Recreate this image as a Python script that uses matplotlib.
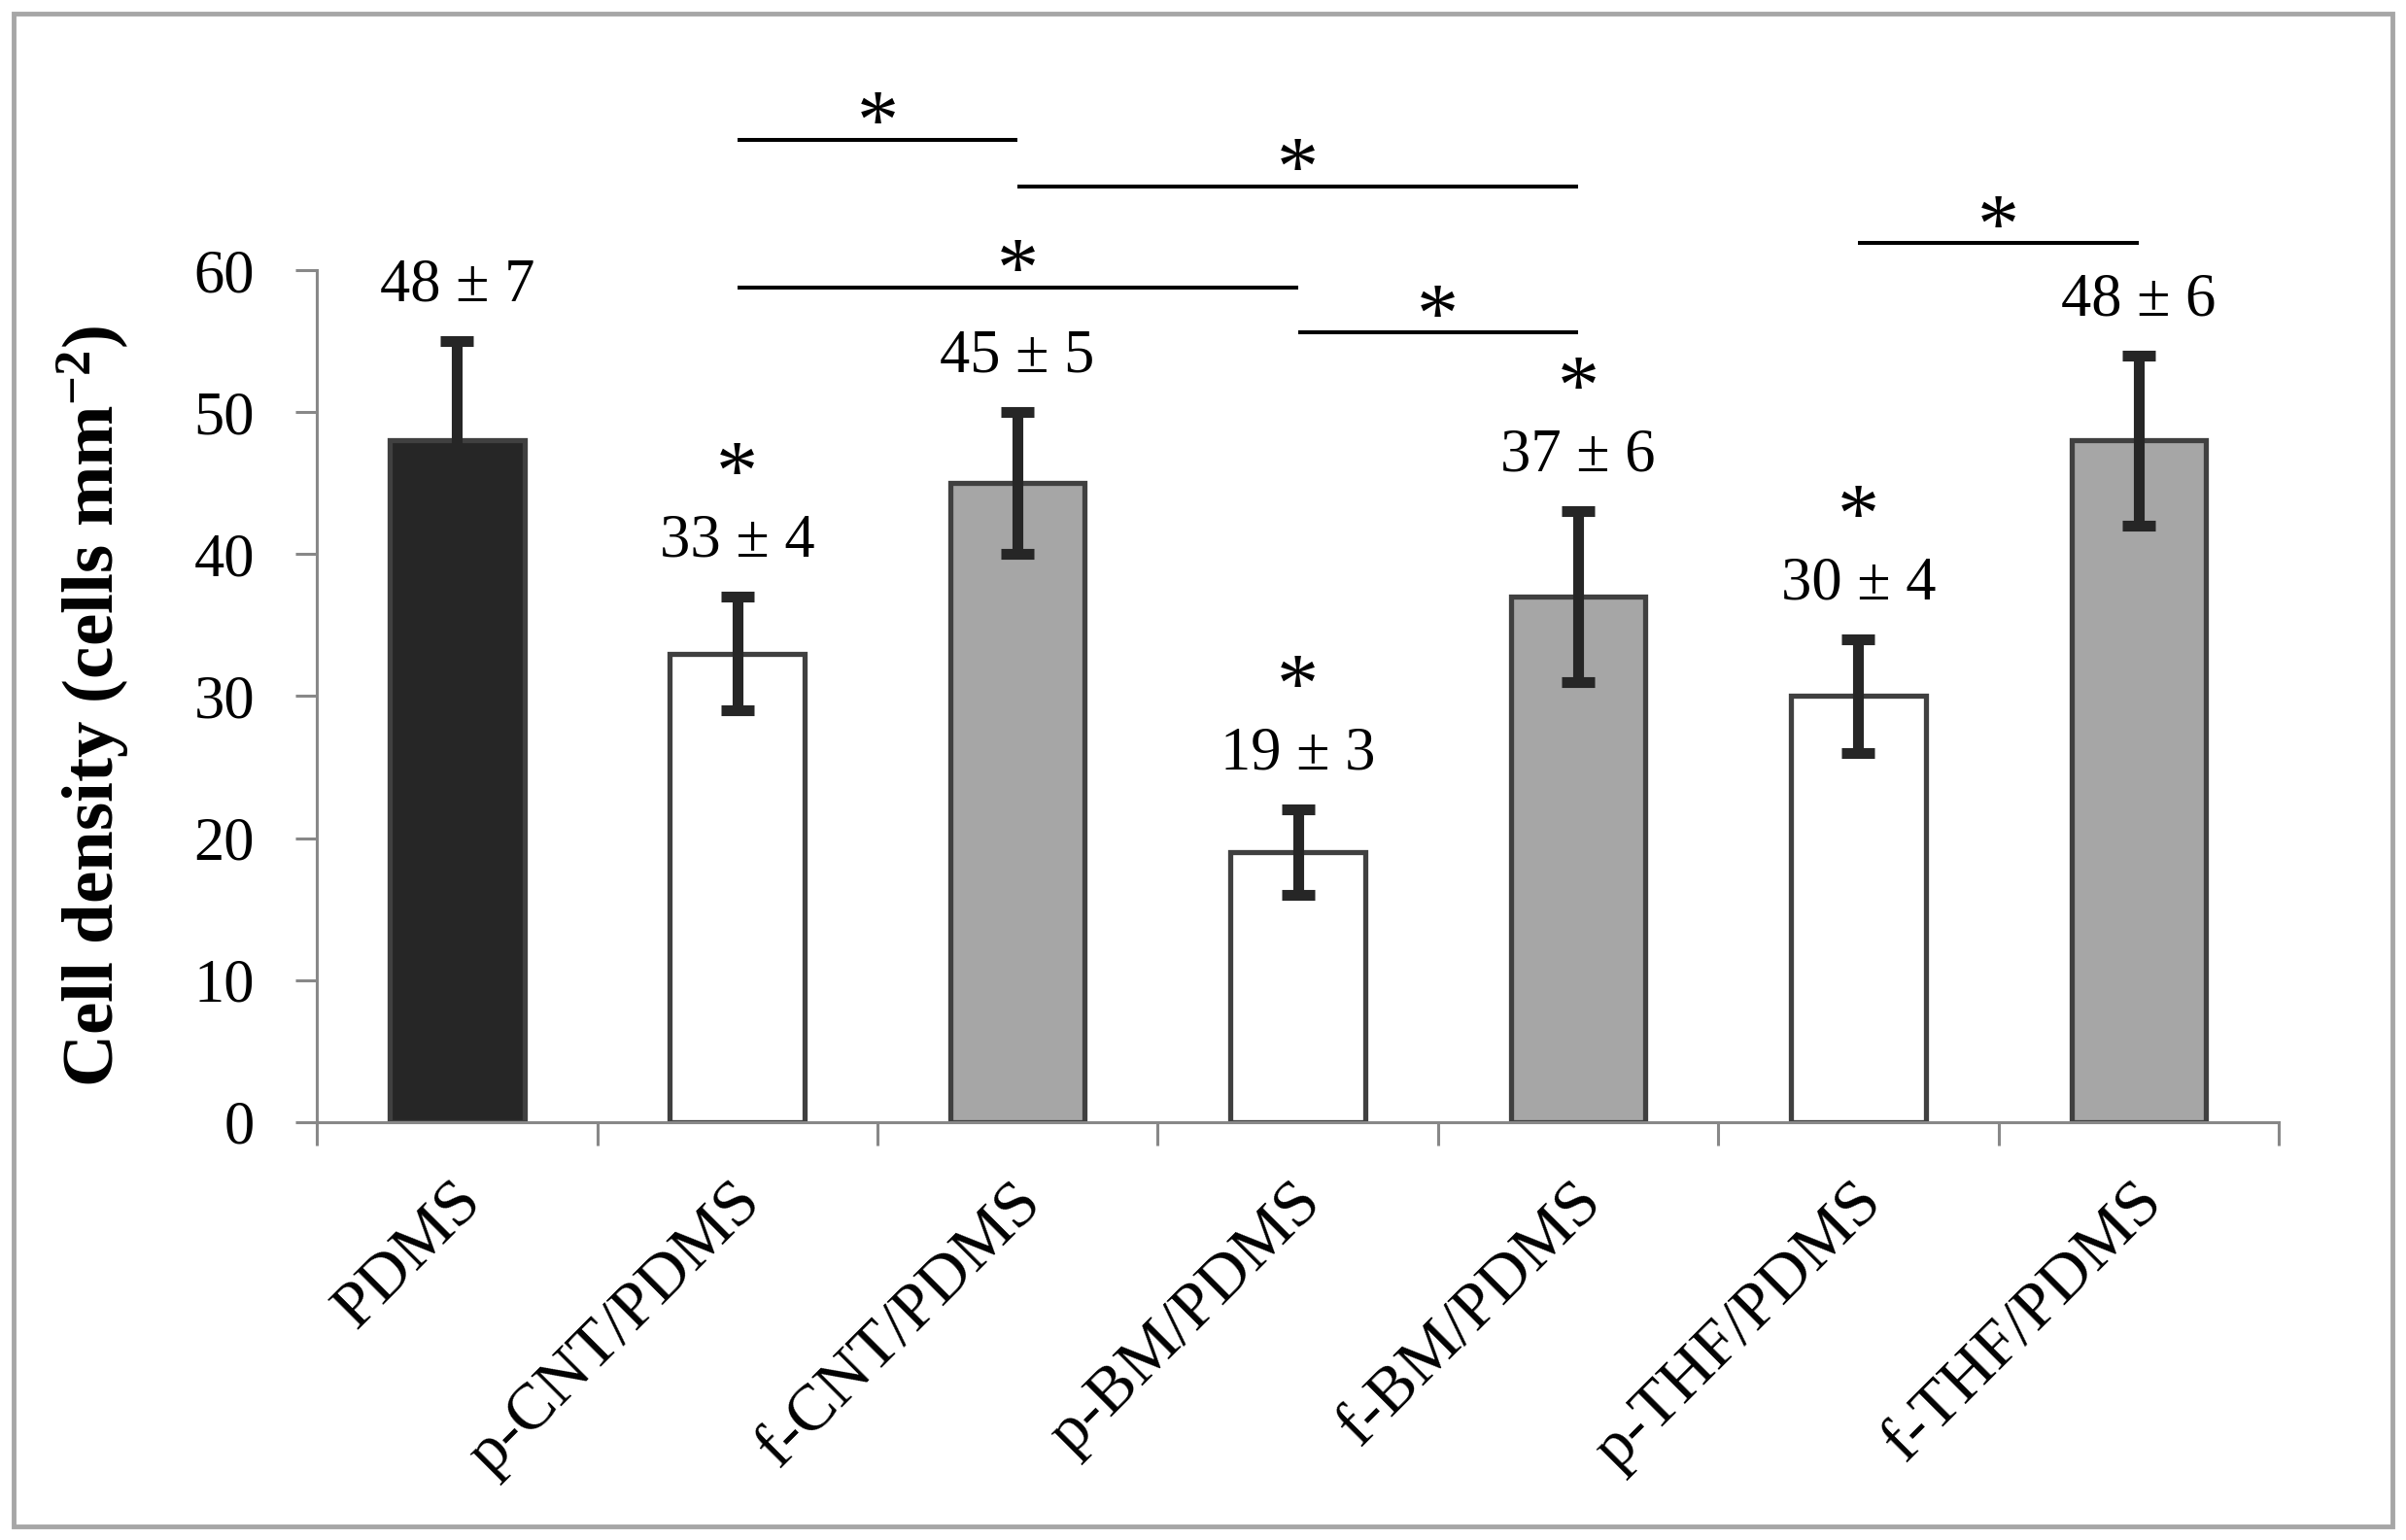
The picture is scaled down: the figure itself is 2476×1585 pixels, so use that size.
import matplotlib
matplotlib.use("Agg")
import matplotlib.pyplot as plt
import matplotlib.transforms as mtransforms
from matplotlib.patches import Rectangle
import numpy as np

plt.rcParams["font.family"] = ["Liberation Serif", "DejaVu Serif"]
plt.rcParams["mathtext.fontset"] = "custom"
plt.rcParams["mathtext.rm"] = "Liberation Serif"
plt.rcParams["mathtext.bf"] = "Liberation Serif:bold"
plt.rcParams["mathtext.default"] = "bf"

samples = ["PDMS", "p-CNT/PDMS", "f-CNT/PDMS", "p-BM/PDMS",
           "f-BM/PDMS", "p-THF/PDMS", "f-THF/PDMS"]
density = [48, 33, 45, 19, 37, 30, 48]
density_sd = [7, 4, 5, 3, 6, 4, 6]
bar_colors = ["#262626", "#ffffff", "#a6a6a6", "#ffffff",
              "#a6a6a6", "#ffffff", "#a6a6a6"]
# star above the value label (different from PDMS)
marked = [False, True, False, True, True, True, False]
# compared pairs (bar indices) and the height of their line
pairs = [(1, 2), (2, 4), (1, 3), (3, 4), (5, 6)]
pair_heights = [69.2, 65.9, 58.8, 55.6, 61.9]

axis_grey = "#888888"
fs = 45

fig = plt.figure(figsize=(24.76, 15.85), dpi=100)
ax = fig.add_axes([0.1317, 0.2713, 0.8154, 0.5533])

x = np.arange(len(samples))
ax.bar(x, density, width=0.48, color=bar_colors, edgecolor="#404040",
       linewidth=3.8, zorder=2)
ax.errorbar(x, density, yerr=density_sd, fmt="none", ecolor="#262626",
            elinewidth=8, capsize=12.5, capthick=8, zorder=3)

ax.set_xlim(-0.5, len(samples) - 0.5)
ax.set_ylim(0, 60)
ax.set_yticks(range(0, 61, 10))

for side in ["top", "right"]:
    ax.spines[side].set_visible(False)
for side in ["left", "bottom"]:
    ax.spines[side].set_color(axis_grey)
    ax.spines[side].set_linewidth(2.2)

ax.set_xticks(x)
ax.set_xticklabels(samples, rotation=45, ha="right", va="center",
                   rotation_mode="anchor", fontsize=49)
ax.set_xticks(np.arange(-0.5, len(samples)), minor=True)
ax.tick_params(axis="x", which="major", length=0, pad=52)
ax.tick_params(axis="x", which="minor", length=17, width=2.2,
               color=axis_grey, direction="out")
ax.tick_params(axis="y", length=16, width=2.2, color=axis_grey,
               pad=30, labelsize=fs)

shift = mtransforms.ScaledTranslation(11 / 72, 0, fig.dpi_scale_trans)
for lbl in ax.get_xticklabels():
    lbl.set_transform(lbl.get_transform() + shift)

# value labels and stars over the bars
for xi, m, s, star in zip(x, density, density_sd, marked):
    ax.annotate(f"{m} ± {s}", xy=(xi, m + s), xytext=(0, 30),
                textcoords="offset points", ha="center", va="baseline",
                fontsize=fs, annotation_clip=False)
    if star:
        ax.annotate("*", xy=(xi, m + s), xytext=(0, 73),
                    textcoords="offset points", ha="center", va="baseline",
                    fontsize=62, annotation_clip=False)

# significance lines
for (a, b), h in zip(pairs, pair_heights):
    ax.plot([a, b], [h, h], color="black", lw=2.9, clip_on=False,
            solid_capstyle="butt")
    ax.annotate("*", xy=((a + b) / 2, h), xytext=(0, -6),
                textcoords="offset points", ha="center", va="baseline",
                fontsize=62, annotation_clip=False)

fig.text(96 / 2476, 1 - 727 / 1585, "Cell density (cells mm$^{-2}$)",
         rotation=90, fontsize=54, fontweight="bold",
         ha="center", va="center")

fig.patches.append(Rectangle((14 / 2476, 14 / 1585), 1 - 28 / 2476,
                             1 - 28 / 1585, transform=fig.transFigure,
                             fill=False, edgecolor="#a6a6a6", linewidth=3.5))

fig.savefig("out.png", dpi=100)
